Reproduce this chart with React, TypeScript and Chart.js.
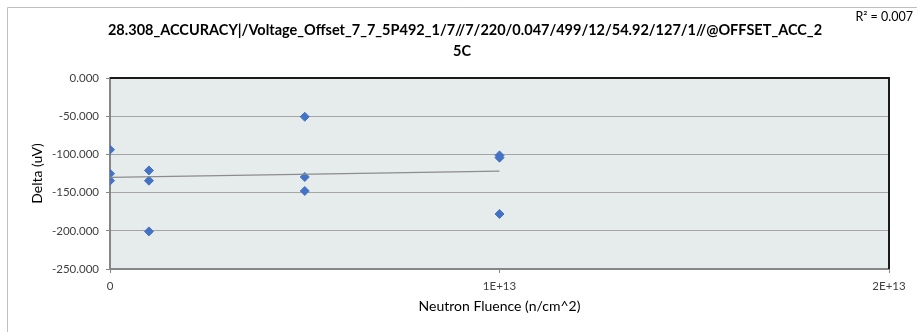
import React, { useEffect, useRef } from "react";
import { Chart, registerables } from "chart.js";

Chart.register(...registerables);

const fluence = [0, 0, 0, 1e12, 1e12, 1e12, 5e12, 5e12, 5e12, 1e13, 1e13, 1e13];
const delta = [-93.8, -125.3, -134.4, -121.0, -134.4, -200.8, -50.7, -129.6, -147.9, -101.3, -104.3, -178.0];
const xTickLabels: Record<number, string> = { 0: "0", 10000000000000: "1E+13", 20000000000000: "2E+13" };
const titleLines = [
  "28.308_ACCURACY|/Voltage_Offset_7_7_5P492_1/7//7/220/0.047/499/12/54.92/127/1//@OFFSET_ACC_2",
  "5C",
];
const rSquaredLabel = "R² = 0.007";
const xAxisTitle = "Neutron Fluence (n/cm^2)";
const yAxisTitle = "Delta (uV)";

function regression(xs: number[], ys: number[]) {
  const n = xs.length;
  const mx = xs.reduce((a, b) => a + b, 0) / n;
  const my = ys.reduce((a, b) => a + b, 0) / n;
  let sxy = 0, sxx = 0;
  for (let i = 0; i < n; i++) {
    sxy += (xs[i] - mx) * (ys[i] - my);
    sxx += (xs[i] - mx) * (xs[i] - mx);
  }
  const slope = sxy / sxx;
  return { slope, intercept: my - slope * mx };
}

const FONT = "Lato, 'Open Sans', sans-serif";

export default function App() {
  const ref = useRef<HTMLCanvasElement>(null);
  useEffect(() => {
    const canvas = ref.current!;
    const { slope, intercept } = regression(fluence, delta);
    const xmin = Math.min(...fluence);
    const xmax = Math.max(...fluence);
    const trend = [
      { x: xmin, y: intercept + slope * xmin },
      { x: xmax, y: intercept + slope * xmax },
    ];
    const decor = {
      id: "decor",
      beforeDraw(chart: any) {
        const { ctx, chartArea: a } = chart;
        ctx.save();
        ctx.fillStyle = "#ffffff";
        ctx.fillRect(0, 0, chart.width, chart.height);
        ctx.fillStyle = "#E6EBEB";
        ctx.fillRect(a.left, a.top, a.right - a.left, a.bottom - a.top);
        ctx.restore();
      },
      afterDraw(chart: any) {
        const { ctx, chartArea: a } = chart;
        ctx.save();
        // outer frame
        ctx.strokeStyle = "#BFBFBF";
        ctx.lineWidth = 1;
        ctx.beginPath();
        ctx.moveTo(7.5, chart.height);
        ctx.lineTo(7.5, 7.5);
        ctx.lineTo(chart.width, 7.5);
        ctx.stroke();
        // top/right border
        ctx.strokeStyle = "#1a1a1a";
        ctx.lineWidth = 2;
        ctx.beginPath();
        ctx.moveTo(a.left, a.top);
        ctx.lineTo(a.right, a.top);
        ctx.lineTo(a.right, a.bottom);
        ctx.stroke();
        // title
        ctx.fillStyle = "#000000";
        ctx.textAlign = "center";
        ctx.textBaseline = "middle";
        ctx.font = `bold 14.5px ${FONT}`;
        ctx.fillText(titleLines[0], 465, 30, 724);
        ctx.fillText(titleLines[1], 462, 51);
        // R²
        ctx.font = `12.5px ${FONT}`;
        ctx.textAlign = "right";
        ctx.fillText(rSquaredLabel, 913, 17);
        // axis titles
        ctx.font = `14px ${FONT}`;
        ctx.textAlign = "center";
        ctx.fillText(xAxisTitle, (a.left + a.right) / 2, 306);
        ctx.translate(37, (a.top + a.bottom) / 2);
        ctx.rotate(-Math.PI / 2);
        ctx.fillText(yAxisTitle, 0, 0);
        ctx.restore();
      },
    };
    const chart = new Chart(canvas, {
      type: "scatter",
      data: {
        datasets: [
          {
            type: "line",
            data: trend,
            borderColor: "#8c8c8c",
            borderWidth: 1.2,
            pointRadius: 0,
            fill: false,
          } as any,
          {
            data: fluence.map((x, i) => ({ x, y: delta[i] })),
            pointStyle: "rectRot",
            pointRadius: 4.5,
            backgroundColor: "#4472C4",
            borderColor: "#4472C4",
            borderWidth: 1,
          },
        ],
      },
      options: {
        responsive: false,
        animation: false,
        devicePixelRatio: 1,
        layout: { padding: { top: 78, right: 28, left: 0, bottom: 0 } },
        plugins: { legend: { display: false }, title: { display: false }, tooltip: { enabled: false } },
        scales: {
          x: {
            type: "linear",
            min: 0,
            max: 2e13,
            afterFit(scale: any) { scale.height = 63; },
            afterBuildTicks(scale: any) {
              scale.ticks = [0, 1e13, 2e13].map((v) => ({ value: v }));
            },
            ticks: {
              callback: (v: any) => xTickLabels[Number(v)] ?? "",
              font: { family: FONT, size: 11.5 },
              color: "#404040",
              padding: 6,
              maxRotation: 0,
            },
            grid: { drawOnChartArea: false, drawTicks: true, tickLength: 4, color: "#868686" },
            border: { color: "#868686", width: 2 },
          },
          y: {
            min: -250,
            max: 0,
            afterFit(scale: any) { scale.width = 110; },
            ticks: {
              stepSize: 50,
              callback: (v: any) => Number(v).toFixed(3),
              font: { family: FONT, size: 11.5 },
              color: "#404040",
              padding: 7,
            },
            grid: { color: "#A5A5A5", lineWidth: 1, tickLength: 4, tickColor: "#868686" },
            border: { color: "#868686", width: 2 },
          },
        },
      },
      plugins: [decor],
    });
    return () => chart.destroy();
  }, []);
  return (
    <div style={{ position: "fixed", left: 0, top: 0, width: 917, height: 332 }}>
      <canvas ref={ref} width={917} height={332} />
    </div>
  );
}
